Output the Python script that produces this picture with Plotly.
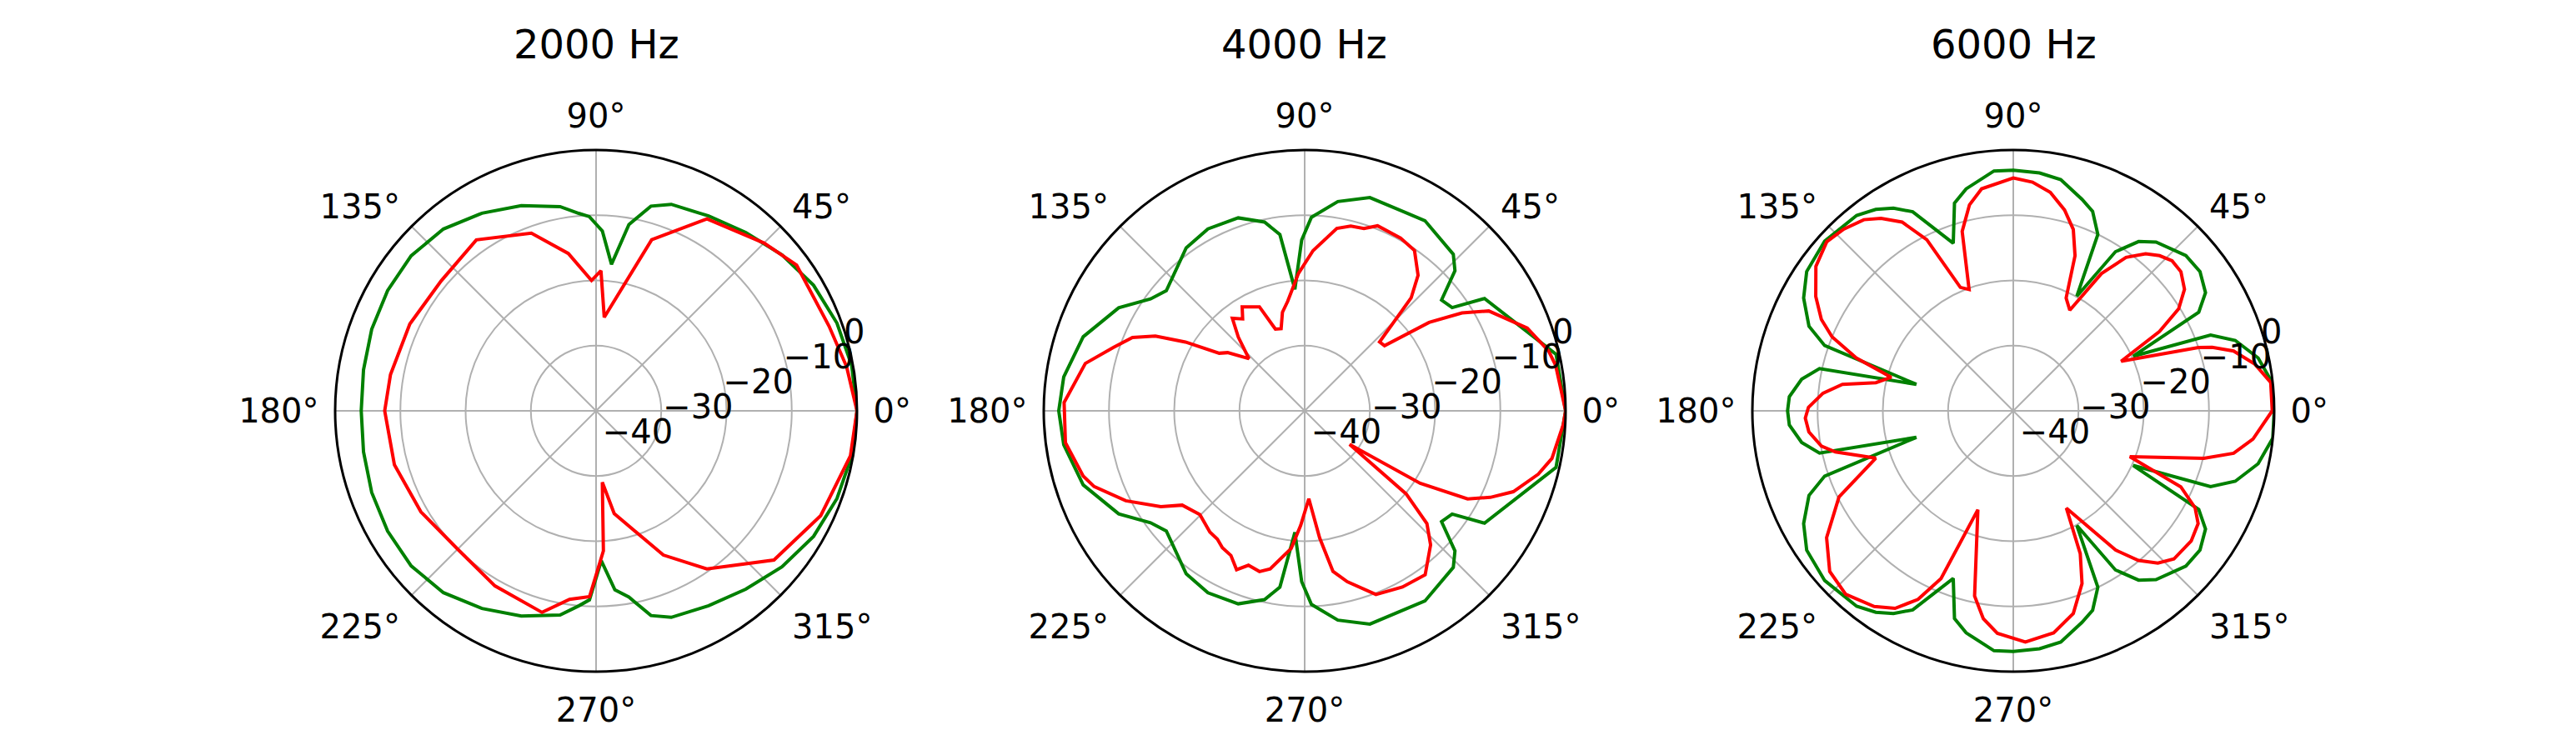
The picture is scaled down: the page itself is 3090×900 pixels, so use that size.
import plotly.graph_objects as go

# ---- 2000 Hz ----
theta_g2k = [0, 10, 20, 30, 40, 50, 60, 70, 75, 80, 84, 88, 92, 95, 100, 110, 120, 130, 140, 150, 160, 170,
             180, 190, 200, 210, 220, 230, 240, 250, 260, 265, 268, 272, 276, 280, 285, 290, 300, 310, 320,
             330, 340, 350, 360]
r_g2k = [0, -0.2, -0.7, -1.5, -2.8, -4.3, -5.5, -6.3, -7.5, -11, -17.4, -12.4, -10.2, -9.6, -8.2, -6.5, -5,
         -3.6, -3, -3.1, -3.4, -3.8, -4, -3.8, -3.4, -3.1, -3, -3.6, -5, -6.5, -8.2, -10, -11, -17, -12.4,
         -11, -7.5, -6.3, -5.5, -4.3, -2.8, -1.5, -0.7, -0.2, 0]

theta_r2k = [0, 10, 20, 36, 45, 60, 72, 85, 88, 92, 100, 110, 125, 140, 155, 170, 180, 195, 210, 225,
             240, 255, 262, 268, 273, 275, 280, 295, 305, 320, 335, 350, 360]
r_r2k = [0, -1, -2, -2, -3.6, -6, -12.4, -25.6, -18.5, -20, -15.5, -11, -8, -9, -8.5, -8, -7.6, -8, -9, -10,
         -9, -8, -10.8, -11.5, -18.5, -29, -24, -15.6, -10.4, -4.4, -2, -0.4, 0]

# ---- 4000 Hz ----
theta_g4k = [0, 12.7, 32, 35, 39, 43, 46.5, 57.7, 73, 81, 88, 91, 94.6, 98, 102, 109, 118, 126, 139, 144,
             151, 161.5, 172, 180, 188, 198.5, 209, 216, 221, 234, 242, 251, 258, 262, 265.4, 269, 272,
             279, 287, 302.3, 313.5, 317, 321, 325, 328, 347.3, 360]
r_g4k = [0, -0.5, -7.5, -12.4, -13, -8.5, -6.9, -5.5, -5.8, -7.5, -10.3, -13.8, -21.3, -12.7, -10.4, -8.7,
         -8.4, -9.1, -11.9, -10.8, -7.4, -4.2, -2.7, -2.3, -2.7, -4.2, -7.4, -10.8, -11.9, -9.1, -8.4, -8.7,
         -10.4, -12.7, -21.3, -13.8, -10.3, -7.5, -5.8, -5.5, -6.9, -8.5, -13, -12.4, -7.5, -0.5, 0]

theta_r4k = [0, 10.3, 13.8, 20.4, 28.5, 31.9, 35.4, 39.2, 42.6, 46.7, 50.1, 55.6, 61, 68.5, 72, 76, 80, 87,
             92.6, 98.8, 102.7, 106, 109.7, 113.5, 121, 124, 128, 132, 136.9, 142.9, 146, 150, 153.4, 156.9,
             161.7, 167.8, 178, 187.6, 196.4, 199.8, 206.7, 213.7, 217.6, 224.7, 232, 235.8, 239, 243, 246.8,
             250, 254.3, 257.7, 264.4, 268, 272.7, 276.7, 280, 284, 291.2, 299, 306.3, 313.2, 317.3, 320.7,
             323.2, 327.9, 331.6, 335, 338.8, 344.8, 349.1, 357, 360]
r_r4k = [0, -0.9, -1.5, -3.6, -7.9, -11.6, -16.6, -24.2, -24.4, -16.2, -12.9, -10.2, -9.7, -9.5, -10.6, -10.8,
         -11.6, -15.4, -18.9, -23, -24.5, -26.9, -26.7, -22.6, -21.4, -23, -22, -24.8, -28.3, -25.2, -24.2,
         -18.9, -14.4, -11.3, -9.1, -5.6, -3.1, -3.0, -4.6, -5.7, -9.3, -13.5, -16.3, -17.4, -16.4, -16.2,
         -15.5, -15.1, -13.5, -14.8, -14.4, -15.2, -18.8, -22.4, -26.5, -20.4, -15, -13, -9.8, -9.1, -8.8,
         -11.8, -14.5, -19.9, -31.4, -19.1, -11.6, -8.6, -5.7, -2.9, -1.4, -0.3, 0]

# ---- 6000 Hz ----
theta_g6k = [0, 6, 12.2, 17.6, 21, 24.5, 28, 31.6, 36.7, 42, 49.8, 53.5, 57.3, 61, 64.4, 68.3, 72, 78.4, 83.7,
             90, 94.6, 102, 105.8, 109.7, 116.8, 120.6, 124.3, 128.7, 138, 146, 151.7, 157.5, 160.9, 164.7,
             167.7, 171.5, 176.4, 180, 183.6, 188.5, 192.3, 195.3, 199.1, 202.5, 208.3, 214, 222, 231.3,
             235.7, 239.4, 243.2, 250.3, 254.2, 258, 265.4, 270, 276.3, 281.6, 288, 291.7, 295.6, 299, 302.7,
             306.5, 310.2, 318, 323.3, 328.4, 332, 335.5, 339, 342.4, 347.8, 354, 360]
r_g6k = [0, 0, -1.6, -4.3, -7.6, -19.8, -7.8, -5.4, -4.3, -4.4, -6.1, -7.7, -11, -19.9, -10, -7.1, -5.9, -3.8,
         -3.3, -3.1, -3.1, -5.2, -6.9, -12.7, -5.8, -3.9, -2.6, -1.6, -1.1, -1.8, -3.5, -6.1, -9.4, -24.6,
         -9.6, -7.2, -5.6, -5.4, -5.6, -7.2, -9.6, -24.6, -9.4, -6.1, -3.5, -1.8, -1.1, -1.6, -2.6, -3.9,
         -5.8, -12.7, -6.9, -5.2, -3.1, -3.1, -3.3, -3.8, -5.9, -7.1, -10, -19.9, -11, -7.7, -6.1, -4.4,
         -4.3, -5.4, -7.8, -19.8, -7.6, -4.3, -1.6, 0, 0]

theta_r6k = [0, 6.3, 11, 15.2, 17.7, 18.9, 24.7, 28.5, 31.7, 35.4, 39.7, 43.4, 46.7, 49.9, 53.7, 57.3, 60.7,
             64.9, 68.3, 71.7, 75.7, 80.4, 85.2, 90, 98.1, 102, 105.9, 110, 113.2, 116.8, 120.5, 124.5, 128,
             133, 137.8, 143.8, 149.9, 154.5, 157.8, 161.4, 164.6, 168.4, 171.2, 174.7, 179, 182, 185.9, 190.4,
             193, 199, 206.3, 214.2, 221.2, 227.6, 234.6, 239.1, 243.2, 246.7, 250.3, 258.2, 261.8, 265.9,
             273, 280.3, 286.5, 291.7, 295.1, 298.6, 306.3, 309.9, 313.5, 317.3, 323.8, 328.6, 331.9, 335.6,
             338.5, 346, 349.1, 353.3, 360]
r_r6k = [-0.3, -0.3, -2.3, -5, -8, -10, -21.8, -14.5, -10.2, -7.8, -6.6, -6.5, -7.3, -8.5, -10.8, -15, -22.3,
         -20.9, -14.4, -10.7, -8.2, -6, -4.8, -4.3, -5.6, -7.7, -11.4, -20.2, -19.4, -10.6, -6.4, -4.2, -2.8,
         -1.9, -1.4, -2.5, -5, -7.4, -10, -14.6, -20.6, -18.5, -13.5, -10.7, -8.6, -8.1, -8.5, -10.1, -12,
         -17.7, -10.2, -5.4, -2.6, -1.9, -3.2, -4.7, -7.6, -12, -23.9, -11, -7.8, -5.8, -4.5, -5.4, -7.6,
         -11.5, -15.8, -23, -13.5, -10.1, -7.8, -6.5, -6.2, -6.8, -8.4, -11.8, -20.8, -9.9, -5.6, -3, -0.3]

titles = ["2000 Hz", "4000 Hz", "6000 Hz"]
greens = [(theta_g2k, r_g2k), (theta_g4k, r_g4k), (theta_g6k, r_g6k)]
reds = [(theta_r2k, r_r2k), (theta_r4k, r_r4k), (theta_r6k, r_r6k)]

centers_x = [707, 1557, 2407]
radius_px = 313
W, H = 3090, 900
cy = 415  # from bottom

font = "DejaVu Sans"
fig = go.Figure()
layout = dict(
    width=W, height=H, paper_bgcolor="white", plot_bgcolor="white",
    margin=dict(l=0, r=0, t=0, b=0), showlegend=False,
    font=dict(family=font, size=40, color="black"),
)
annotations = []
for i in range(3):
    key = "polar" if i == 0 else f"polar{i + 1}"
    for (th, rr), col in [(greens[i], "green"), (reds[i], "red")]:
        fig.add_trace(go.Scatterpolar(
            theta=th, r=rr, mode="lines", subplot=key,
            line=dict(color=col, width=4), hoverinfo="skip",
        ))
    cx = centers_x[i]
    layout[key] = dict(
        domain=dict(x=[(cx - radius_px) / W, (cx + radius_px) / W],
                    y=[(cy - radius_px) / H, (cy + radius_px) / H]),
        bgcolor="white",
        angularaxis=dict(
            direction="counterclockwise", rotation=0,
            tickvals=[0, 45, 90, 135, 180, 225, 270, 315],
            ticktext=["0°", "45°", "90°", "135°", "180°", "225°", "270°", "315°"],
            showgrid=True, gridcolor="#b0b0b0", gridwidth=2,
            showline=True, linecolor="black", linewidth=3, ticks="outside",
            ticklen=10, tickcolor="rgba(0,0,0,0)",
            tickfont=dict(size=40),
        ),
        radialaxis=dict(
            range=[-40, 0], tickvals=[-40, -30, -20, -10, 0], angle=22.5, tickangle=22.5,
            showgrid=True, gridcolor="#b0b0b0", gridwidth=2,
            showline=False, ticks="", tickfont=dict(size=40),
        ),
    )
    annotations.append(dict(
        text=titles[i], x=cx / W, y=(H - 45) / H, xref="paper", yref="paper",
        showarrow=False, font=dict(size=48), xanchor="center", yanchor="middle",
    ))
layout["annotations"] = annotations
fig.update_layout(**layout)
fig.write_html("out.html")
